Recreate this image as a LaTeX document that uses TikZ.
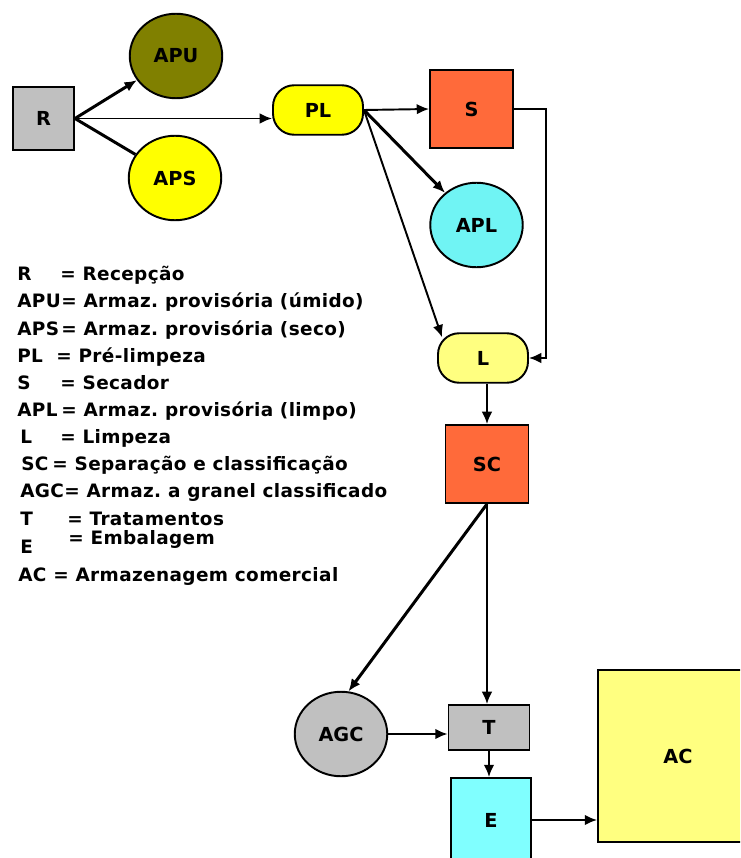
\documentclass[tikz,border=0pt]{standalone}
\usepackage{fontspec}
\setmainfont{DejaVu Sans}
\newfontfamily\legendfont[LetterSpace=2]{DejaVu Sans}
\frenchspacing
\usetikzlibrary{positioning, arrows, arrows.meta, calc, shapes.geometric}
\definecolor{boxgray}{HTML}{C0C0C0}
\definecolor{olive}{HTML}{808000}
\definecolor{brightyellow}{HTML}{FFFF00}
\definecolor{paleyellow}{HTML}{FFFF80}
\definecolor{dryorange}{HTML}{FF6A3A}
\definecolor{cleancyan}{HTML}{70F4F4}
\definecolor{packcyan}{HTML}{80FFFF}
\tikzset{
    x=0.02cm, y=-0.02cm, % one unit = one pixel of the sketch, y going down
    every node/.style={font=\fontsize{11}{13}\selectfont\bfseries},
    box/.style={ % square and oblong stations
        draw, line width=1.1pt, rectangle, inner sep=0pt
    },
    blob/.style={ % storage bins
        draw, line width=1.1pt, ellipse, inner sep=0pt,
        minimum width=1.85cm, minimum height=1.69cm
    },
    pill/.style={ % cleaning stations
        draw, line width=1.1pt, rectangle, rounded corners=12pt,
        minimum width=1.80cm, minimum height=0.99cm
    },
    >={Latex[length=7pt, width=6pt]},
    every edge/.style={ % grain flow
        draw,
        ->,
        line width=1.1pt
    },
    heavy/.style={line width=1.7pt},
    legendtext/.style={anchor=base west, inner sep=0pt,
        font=\legendfont\fontsize{10.5}{12}\selectfont\bfseries}
}

\begin{document}
\begin{tikzpicture}
    \useasboundingbox (0,0) rectangle (740,858);
    \clip (0,0) rectangle (740,858);

    % stations
    \node[box, fill=boxgray, minimum width=1.22cm, minimum height=1.26cm]    (R)   at (43.5,118.5) {R};
    \node[blob, fill=olive]                                                    (APU) at (176,56)     {APU};
    \node[blob, fill=brightyellow]                                             (APS) at (175,178)    {APS};
    \node[pill, fill=brightyellow]                                             (PL)  at (318,110)    {PL};
    \node[box, fill=dryorange, minimum width=1.66cm, minimum height=1.56cm]  (S)   at (471.5,109)  {S};
    \node[blob, fill=cleancyan]                                                (APL) at (476.5,225)  {APL};
    \node[pill, fill=paleyellow]                                               (L)   at (483,358)    {L};
    \node[box, fill=dryorange, minimum width=1.66cm, minimum height=1.56cm]  (SC)  at (487,464)    {SC};
    \node[blob, fill=boxgray]                                                  (AGC) at (341,734)    {AGC};
    \node[box, fill=boxgray, minimum width=1.62cm, minimum height=0.90cm]    (T)   at (489,727.5)  {T};
    \node[box, fill=packcyan, minimum width=1.60cm, minimum height=1.68cm]   (E)   at (491,820)    {E};
    \node[box, fill=paleyellow, minimum width=3.20cm, minimum height=3.44cm] (AC)  at (678,756)    {AC};

    % flow
    \draw   (R.east)  edge[heavy]     (APU)
            (R.east)  edge[heavy, -]  (APS)
            (R.east)  edge            (R.east -| PL.west)
            (PL.east) edge            (S.west)
            (PL.east) edge[heavy]     (APL)
            (PL.east) edge            ($(L.north west)+(5,5)$)
            (L.south -| SC.north) edge (SC.north)
            (SC.south) edge[heavy]    (AGC.80)
            (SC.south) edge           (SC.south |- T.north)
            (AGC.east) edge           (AGC.east -| T.west)
            (T.south) edge            (T.south |- E.north)
            (E.east)  edge            (E.east -| AC.west)
    ;
    \draw[->, line width=1.1pt] (S.east) -- ++(32,0) |- (L.east);

    % legend
    \foreach \k/\xk/\xe/\yk/\ye/\d in {
        R/17/60/280/280/Recepção,
        APU/17/61/307/307/Armaz. provisória (úmido),
        APS/17/61/335/335/Armaz. provisória (seco),
        PL/17/56/362/362/Pré-limpeza,
        S/17/60/389/389/Secador,
        APL/17/61/416/416/Armaz. provisória (limpo),
        L/20/60/443/443/Limpeza,
        SC/21/52/470/470/Separação e classificação,
        AGC/20/64/497/497/Armaz. a granel classificado,
        T/20/67/525/525/Tratamentos,
        E/20/68/553/544/Embalagem,
        AC/18/53/581/581/Armazenagem comercial}
    {
        \node[legendtext] (key-\k)  at (\xk,\yk) {\k};
        \node[legendtext] (desc-\k) at (\xe,\ye) {= \d};
    }
\end{tikzpicture}
\end{document}
